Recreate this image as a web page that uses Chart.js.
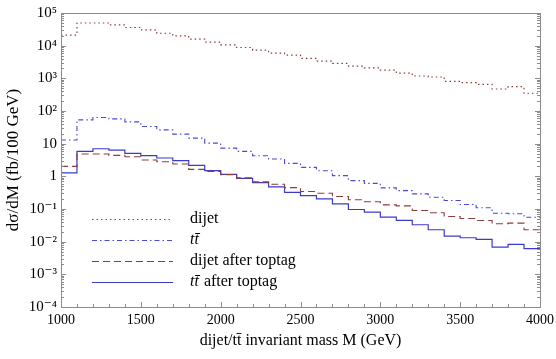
<!DOCTYPE html>
<html>
<head>
<meta charset="utf-8">
<script src="https://cdn.jsdelivr.net/npm/chart.js@4.4.1/dist/chart.umd.min.js"></script>
<style>
  body { margin: 0; background: #fff; }
  #wrap { width: 556px; height: 359px; }
</style>
</head>
<body>
<div id="wrap"><canvas id="massChart" width="556" height="359"></canvas></div>
<script>
// left edges of the 100 GeV mass bins
const binEdges = [1000, 1100, 1200, 1300, 1400, 1500, 1600, 1700, 1800, 1900,
                  2000, 2100, 2200, 2300, 2400, 2500, 2600, 2700, 2800, 2900,
                  3000, 3100, 3200, 3300, 3400, 3500, 3600, 3700, 3800, 3900];
const massMax = 4000;

const seriesNames = ["dijet", "tt\u0304", "dijet after toptag", "tt\u0304 after toptag"];

const dijet = [21000, 49500, 49500, 43000, 36000, 30300, 24000, 19900, 15800, 12800,
               10600, 8800, 7300, 5900, 5100, 4070, 3370, 2860, 2370, 2100,
               1790, 1450, 1180, 1100, 811, 735, 656, 472, 555, 349];
const ttbar = [12.9, 53.6, 63, 57.4, 46.5, 33.5, 26.5, 19.6, 14.8, 10.4,
               7.3, 5.8, 4.28, 3.39, 2.49, 1.88, 1.49, 1.05, 0.74, 0.61,
               0.443, 0.366, 0.29, 0.229, 0.182, 0.137, 0.109, 0.0745, 0.0714, 0.056];
const dijetTagged = [2.02, 4.82, 4.82, 4.37, 3.99, 3.16, 2.81, 2.39, 1.63, 1.42,
                     1.13, 0.894, 0.675, 0.57, 0.452, 0.342, 0.303, 0.241, 0.191, 0.166,
                     0.134, 0.125, 0.090, 0.0766, 0.059, 0.0513, 0.0446, 0.0354, 0.0369, 0.0232];
const ttbarTagged = [1.27, 5.78, 6.99, 6.38, 5.03, 4.28, 3.64, 3.01, 2.16, 1.49,
                     1.15, 0.869, 0.643, 0.475, 0.325, 0.258, 0.205, 0.144, 0.0966, 0.0799,
                     0.0562, 0.0446, 0.033, 0.0232, 0.0148, 0.0132, 0.0117, 0.00684, 0.00827, 0.00613];

const xTickValues = [1000, 1500, 2000, 2500, 3000, 3500, 4000];
const xTickLabels = ["1000", "1500", "2000", "2500", "3000", "3500", "4000"];
const yTickValues = [1e5, 1e4, 1e3, 100, 10, 1, 0.1, 0.01, 0.001, 0.0001];
const yTickLabels = ["10\u2075", "10\u2074", "10\u00B3", "10\u00B2", "10", "1",
                     "10\u207B\u00B9", "10\u207B\u00B2", "10\u207B\u00B3", "10\u207B\u2074"];

const SERIF = "'Liberation Serif', 'DejaVu Serif', serif";
const BROWN = "#8b3c3c";
const BLUE = "#3a3acd";
const FRAME = "#8c8c8c";

// histogram points: one per bin edge, plus the closing edge
function histPoints(values) {
  const pts = binEdges.map((x, i) => ({ x: x, y: values[i] }));
  pts.push({ x: massMax, y: values[values.length - 1] });
  return pts;
}

function makeSet(label, values, color, dash, width) {
  return {
    label: label,
    data: histPoints(values),
    borderColor: color,
    borderWidth: width,
    borderDash: dash,
    stepped: "before",
    pointRadius: 0,
    fill: false
  };
}

// frame + inward ticks like the original plot
const frameTicks = {
  id: "frameTicks",
  afterDraw(chart) {
    const ctx = chart.ctx;
    const area = chart.chartArea;
    const xs = chart.scales.x;
    const ys = chart.scales.y;
    ctx.save();
    ctx.strokeStyle = FRAME;
    ctx.lineWidth = 1;
    ctx.beginPath();
    for (let v = 1000; v <= 4000; v += 100) {
      const px = Math.round(xs.getPixelForValue(v)) + 0.5;
      const len = v % 500 === 0 ? 5 : 3;
      ctx.moveTo(px, area.bottom);
      ctx.lineTo(px, area.bottom - len);
    }
    for (let e = -4; e <= 5; e++) {
      for (let m = 1; m <= 9; m++) {
        const v = m * Math.pow(10, e);
        if (v > 1e5) break;
        const py = Math.round(ys.getPixelForValue(v)) + 0.5;
        const len = m === 1 ? 5 : 3;
        ctx.moveTo(area.left, py);
        ctx.lineTo(area.left + len, py);
        ctx.moveTo(area.right, py);
        ctx.lineTo(area.right - len, py);
      }
    }
    ctx.stroke();
    ctx.strokeRect(Math.round(area.left) + 0.5, Math.round(area.top) + 0.5,
                   Math.round(area.right - area.left), Math.round(area.bottom - area.top));
    ctx.restore();
  }
};

// legend drawn inside the plot, lower left
const insideLegend = {
  id: "insideLegend",
  afterDraw(chart) {
    const ctx = chart.ctx;
    const rows = [219, 240, 261, 282];
    ctx.save();
    chart.data.datasets.forEach((ds, i) => {
      const y = rows[i] + 0.5;
      ctx.strokeStyle = ds.borderColor;
      ctx.lineWidth = ds.borderWidth;
      ctx.setLineDash(ds.borderDash || []);
      ctx.beginPath();
      ctx.moveTo(92, y);
      ctx.lineTo(173, y);
      ctx.stroke();

      ctx.setLineDash([]);
      ctx.fillStyle = "#000";
      ctx.textBaseline = "middle";
      let x = 190;
      const name = ds.label;
      if (name.startsWith("tt")) {
        const tt = "tt\u0304";
        ctx.font = "italic 16px " + SERIF;
        ctx.fillText(tt, x, rows[i]);
        x += ctx.measureText(tt).width + 1;
        ctx.font = "16px " + SERIF;
        ctx.fillText(name.slice(tt.length), x, rows[i]);
      } else {
        ctx.font = "16px " + SERIF;
        ctx.fillText(name, x, rows[i]);
      }
    });
    ctx.restore();
  }
};

const chart = new Chart(document.getElementById("massChart"), {
  type: "line",
  data: {
    datasets: [
      makeSet(seriesNames[0], dijet, BROWN, [1.5, 3], 1.2),
      makeSet(seriesNames[1], ttbar, "#4a4ad8", [5, 3, 1.5, 3], 1.1),
      makeSet(seriesNames[2], dijetTagged, BROWN, [7, 4], 1.1),
      makeSet(seriesNames[3], ttbarTagged, BLUE, [], 1.2)
    ]
  },
  options: {
    responsive: false,
    animation: false,
    devicePixelRatio: 1,
    layout: { padding: { top: 9, right: 16, bottom: 0, left: 0 } },
    plugins: {
      legend: { display: false },
      tooltip: { enabled: false }
    },
    scales: {
      x: {
        type: "linear",
        min: 1000,
        max: 4000,
        grid: { display: false, drawTicks: false },
        border: { display: false },
        afterBuildTicks: (scale) => {
          scale.ticks = xTickValues.map(v => ({ value: v }));
        },
        afterFit: (scale) => {
          scale.height = 52;
          scale.paddingRight = 14;
        },
        ticks: {
          padding: 5,
          color: "#000",
          font: { family: SERIF, size: 14 },
          maxRotation: 0,
          autoSkip: false,
          callback: (v) => xTickLabels[xTickValues.indexOf(v)]
        },
        title: {
          display: true,
          text: "dijet/tt\u0304 invariant mass M (GeV)",
          color: "#000",
          font: { family: SERIF, size: 16 },
          padding: { top: 0, bottom: 9 }
        }
      },
      y: {
        type: "logarithmic",
        min: 1e-4,
        max: 1e5,
        grid: { display: false, drawTicks: false },
        border: { display: false },
        afterBuildTicks: (scale) => {
          scale.ticks = yTickValues.map(v => ({ value: v }));
        },
        afterFit: (scale) => { scale.width = 61; },
        ticks: {
          padding: 4,
          color: "#000",
          font: { family: SERIF, size: 15 },
          autoSkip: false,
          callback: (v) => yTickLabels[yTickValues.indexOf(v)]
        },
        title: {
          display: true,
          text: "d\u03C3/dM (fb/100 GeV)",
          color: "#000",
          font: { family: SERIF, size: 17 },
          padding: { top: 3, bottom: 0 }
        }
      }
    }
  },
  plugins: [frameTicks, insideLegend]
});
</script>
</body>
</html>
